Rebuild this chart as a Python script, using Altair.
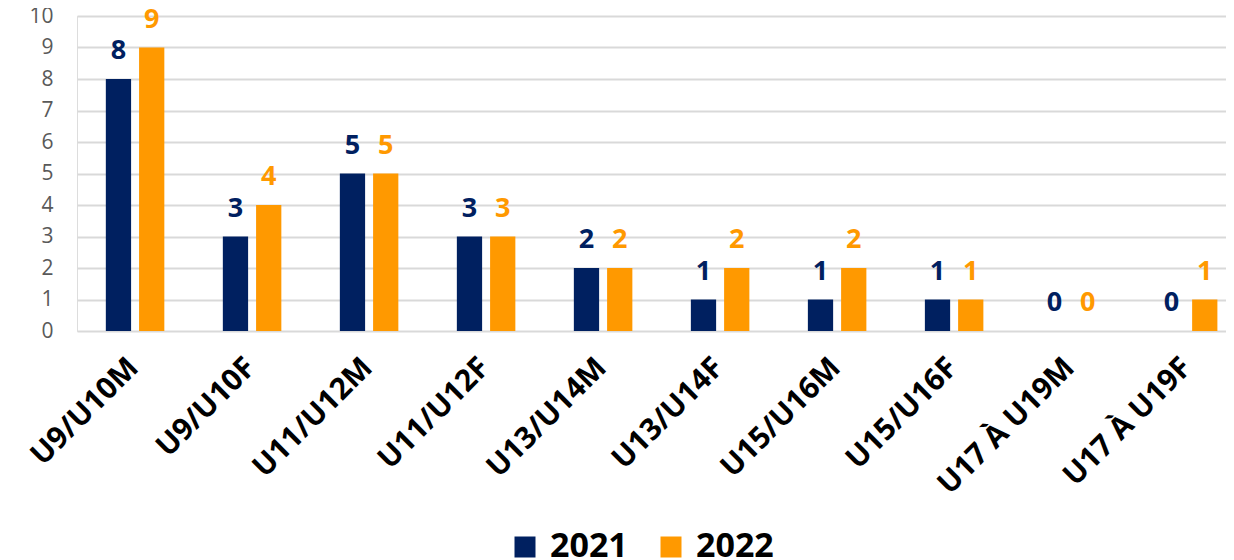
import altair as alt
import pandas as pd

categories = ["U9/U10M", "U9/U10F", "U11/U12M", "U11/U12F", "U13/U14M",
              "U13/U14F", "U15/U16M", "U15/U16F", "U17 À U19M", "U17 À U19F"]
years = ["2021", "2022"]
values_2021 = [8, 3, 5, 3, 2, 1, 1, 1, 0, 0]
values_2022 = [9, 4, 5, 3, 2, 2, 2, 1, 0, 1]
y_ticks = list(range(0, 11))

rows = []
for c, a, b in zip(categories, values_2021, values_2022):
    rows.append({"cat": c, "year": "2021", "value": a})
    rows.append({"cat": c, "year": "2022", "value": b})
df = pd.DataFrame(rows)

colors = ["#002060", "#FF9900"]
FONT = "Open Sans"

x_axis = alt.Axis(labelAngle=-45, labelAlign="right", labelBaseline="top",
                  labelFont=FONT, labelFontSize=30, labelFontWeight="bold",
                  labelColor="#000000", labelPadding=21, labelOffset=-12,
                  domain=False, ticks=False, grid=False, labelOverlap=False)
x_scale = alt.Scale(paddingInner=0.5, paddingOuter=0.16, align=0.77)
y_axis = alt.Axis(values=y_ticks, domain=False, ticks=False, grid=True,
                  gridColor="#d9d9d9", gridWidth=2, labelOverlap=False,
                  labelFont=FONT, labelFontSize=21, labelColor="#595959",
                  labelPadding=24)
y_scale = alt.Scale(domain=[0, 10], nice=False)

x_enc = alt.X("cat:N", sort=categories, title=None, scale=x_scale, axis=x_axis)
xoff = alt.XOffset("year:N", sort=years, scale=alt.Scale(paddingInner=0.24, paddingOuter=0))
y_enc = alt.Y("value:Q", title=None, scale=y_scale, axis=y_axis)
color_enc = alt.Color("year:N", sort=years,
                      scale=alt.Scale(domain=years, range=colors),
                      legend=alt.Legend(title=None, orient="none", direction="horizontal",
                                        legendX=431, legendY=514,
                                        symbolType="square", symbolSize=441,
                                        symbolStrokeWidth=0,
                                        labelFont=FONT, labelFontSize=34,
                                        labelFontWeight="bold", labelColor="#000000",
                                        labelOffset=8, columnPadding=26))

bars = alt.Chart(df).mark_bar().encode(x=x_enc, xOffset=xoff, y=y_enc, color=color_enc)
labels = alt.Chart(df).mark_text(font=FONT, fontSize=27, fontWeight="bold",
                                 baseline="alphabetic", dy=-20).encode(
    x=x_enc,
    xOffset=xoff,
    y=y_enc,
    text="value:Q",
    color=color_enc,
)

chart = alt.layer(bars, labels).properties(
    width=1149, height=315,
    autosize=alt.AutoSizeParams(type="none"),
    padding={"left": 69, "top": 8, "right": 0, "bottom": 229},
).configure_view(stroke=None).configure(background="#ffffff")

chart.save("out.html", embed_options={"renderer": "svg", "actions": False})
